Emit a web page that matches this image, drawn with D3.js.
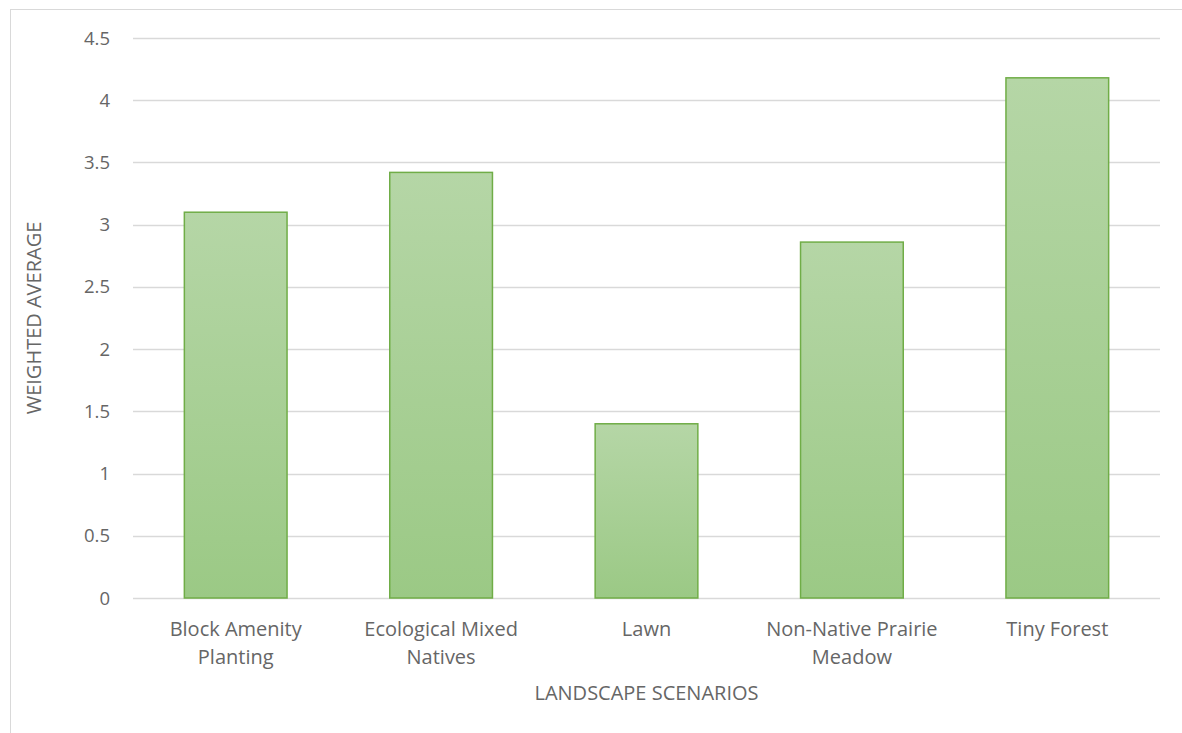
<!DOCTYPE html>
<html>
<head>
<meta charset="utf-8">
<script src="https://cdn.jsdelivr.net/npm/d3@7"></script>
<style>
  body { margin: 0; background: #fff; }
  text { font-family: "Open Sans", "Liberation Sans", sans-serif; fill: #666; }
</style>
</head>
<body>
<div id="chart"></div>
<script>
const categories = [["Block Amenity", "Planting"], ["Ecological Mixed", "Natives"], ["Lawn"], ["Non-Native Prairie", "Meadow"], ["Tiny Forest"]];
const values = [3.10, 3.42, 1.40, 2.86, 4.18];
const yTicks = [0, 0.5, 1, 1.5, 2, 2.5, 3, 3.5, 4, 4.5];

const width = 1182, height = 733;
const margin = {top: 38, left: 133, right: 22, bottom: 135};

const svg = d3.select("#chart").append("svg")
  .attr("width", width)
  .attr("height", height);

// chart border
svg.append("rect")
  .attr("x", 10.5).attr("y", 9.5)
  .attr("width", width - 10).attr("height", height)
  .attr("fill", "none")
  .attr("stroke", "#d9d9d9")
  .attr("stroke-width", 1);

const defs = svg.append("defs");
const grad = defs.append("linearGradient")
  .attr("id", "barGrad")
  .attr("x1", 0).attr("y1", 0).attr("x2", 0).attr("y2", 1);
grad.append("stop").attr("offset", "0%").attr("stop-color", "#b5d6a6");
grad.append("stop").attr("offset", "100%").attr("stop-color", "#9bc985");

const x = d3.scaleBand()
  .domain(d3.range(categories.length))
  .range([margin.left, width - margin.right])
  .paddingInner(0.5)
  .paddingOuter(0.25);

const y = d3.scaleLinear()
  .domain([0, 4.5])
  .range([height - margin.bottom, margin.top]);

// gridlines
svg.append("g")
  .selectAll("line")
  .data(yTicks)
  .join("line")
  .attr("x1", margin.left)
  .attr("x2", width - margin.right)
  .attr("y1", d => Math.round(y(d)) + 0.5)
  .attr("y2", d => Math.round(y(d)) + 0.5)
  .attr("stroke", "#d9d9d9")
  .attr("stroke-width", 1.3);

// y tick labels
svg.append("g")
  .selectAll("text")
  .data(yTicks)
  .join("text")
  .attr("x", 110)
  .attr("y", d => y(d) + 6.5)
  .attr("text-anchor", "end")
  .style("font-size", "18.5px")
  .text(d => d);

// bars
svg.append("g")
  .selectAll("rect")
  .data(values)
  .join("rect")
  .attr("x", (d, i) => x(i))
  .attr("y", d => y(d))
  .attr("width", x.bandwidth())
  .attr("height", d => y(0) - y(d))
  .attr("fill", "url(#barGrad)")
  .attr("stroke", "#70ad47")
  .attr("stroke-width", 1.5);

// category labels
const cat = svg.append("g")
  .selectAll("text")
  .data(categories)
  .join("text")
  .attr("text-anchor", "middle")
  .attr("x", (d, i) => x(i) + x.bandwidth() / 2)
  .attr("y", 636)
  .style("font-size", "20px");
cat.selectAll("tspan")
  .data(d => d)
  .join("tspan")
  .attr("x", function() { return d3.select(this.parentNode).attr("x"); })
  .attr("dy", (d, i) => i === 0 ? 0 : 28)
  .text(d => d);

// axis titles
svg.append("text")
  .attr("x", (margin.left + width - margin.right) / 2)
  .attr("y", 700)
  .attr("text-anchor", "middle")
  .style("font-size", "20px")
  .text("LANDSCAPE SCENARIOS");

svg.append("text")
  .attr("transform", `translate(41, ${(margin.top + height - margin.bottom) / 2}) rotate(-90)`)
  .attr("text-anchor", "middle")
  .style("font-size", "20px")
  .text("WEIGHTED AVERAGE");
</script>
</body>
</html>
